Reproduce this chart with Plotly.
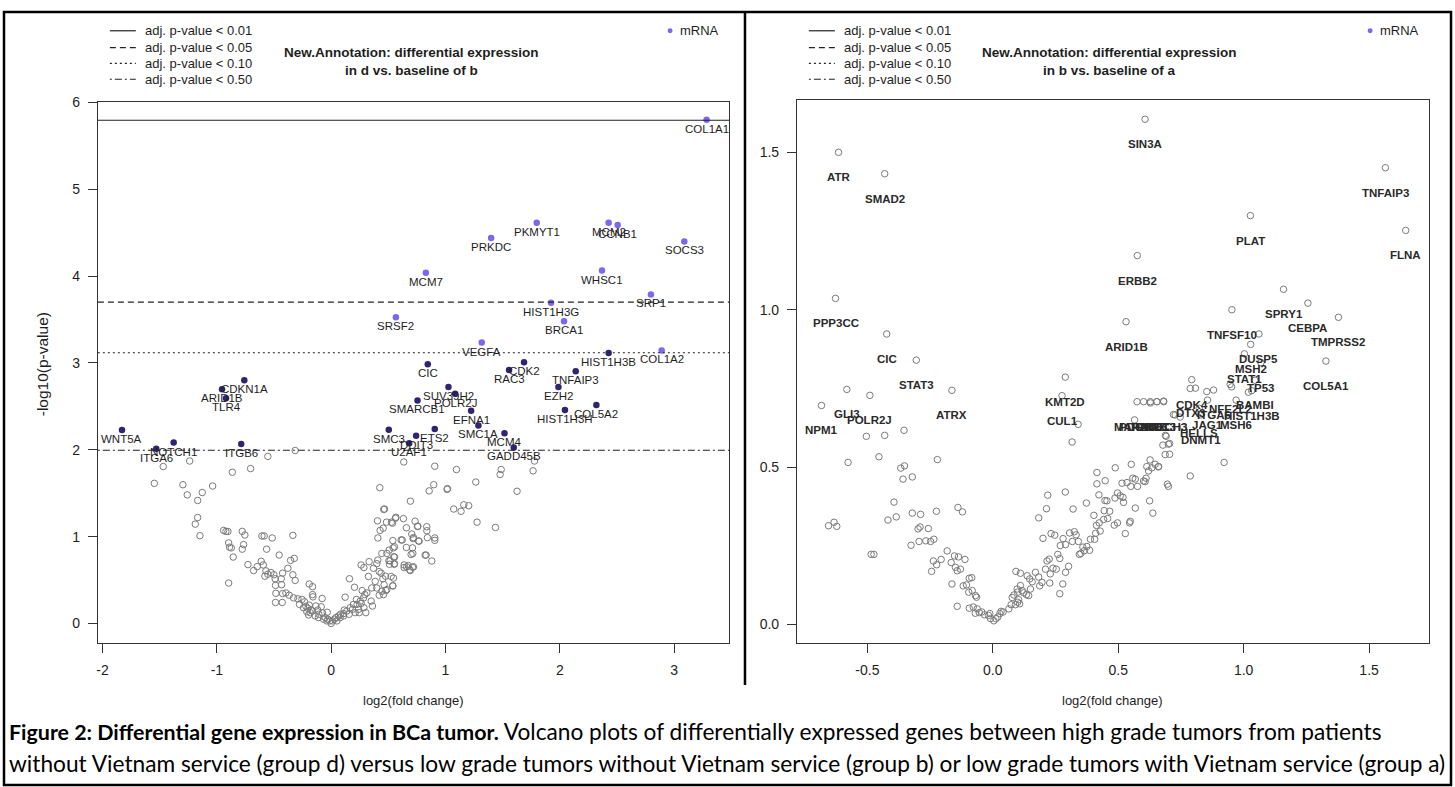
import plotly.graph_objects as go

W, H = 1455, 787

# ---------------- data: left panel (d vs b) ----------------
left_sig_genes = ["COL1A1", "PKMYT1", "PRKDC", "MCM2", "CCNB1", "SOCS3", "MCM7", "WHSC1", "SRP1",
                  "HIST1H3G", "SRSF2", "BRCA1", "VEGFA", "COL1A2", "HIST1H3B", "CIC", "CDK2", "RAC3",
                  "TNFAIP3", "SUV39H2", "POLR2J", "EZH2", "SMARCB1", "COL5A2", "HIST1H3H", "EFNA1",
                  "SMC1A", "SMC3", "ETS2", "MCM4", "DDIT3", "U2AF1", "GADD45B", "WNT5A", "CDKN1A",
                  "ARID1B", "TLR4", "NOTCH1", "ITGA6", "ITGB6"]
left_sig_x = [3.284, 1.798, 1.399, 2.427, 2.506, 3.089, 0.828, 2.369, 2.797,
              1.923, 0.566, 2.037, 1.317, 2.891, 2.427, 0.845, 1.687, 1.556,
              2.139, 1.026, 1.084, 1.988, 0.755, 2.32, 2.045, 1.224,
              1.288, 0.504, 0.906, 1.516, 0.743, 0.682, 1.597, -1.83, -0.760,
              -0.955, -0.920, -1.378, -1.530, -0.787]
left_sig_y = [5.80, 4.614, 4.44, 4.614, 4.59, 4.40, 4.04, 4.065, 3.79,
              3.693, 3.527, 3.48, 3.235, 3.144, 3.114, 2.985, 3.008, 2.92,
              2.906, 2.724, 2.645, 2.724, 2.568, 2.516, 2.459, 2.451,
              2.281, 2.232, 2.239, 2.19, 2.163, 2.076, 2.027, 2.227, 2.80,
              2.698, 2.595, 2.084, 2.011, 2.068]

left_gray_x = [-1.547, -1.469, -1.238, -1.297, -1.259, -1.168, -1.128, -1.037, -1.189, -1.168, -1.148,
               -0.865, -0.705, -0.554, -0.315, -0.941, -0.921, -0.903, -0.897, -0.889, -0.874, -0.857,
               -0.897, -0.778, -0.755, -0.766, -0.778, -0.728, -0.679, -0.647, -0.606, -0.586, -0.516,
               -0.565, -0.612, -0.594, -0.571, -0.580, -0.554, -0.527, -0.501, -0.455, -0.335, -0.323,
               -0.355, -0.379, -0.425, -0.490, -0.437, -0.487, -0.434, -0.484, -0.425, -0.487, -0.428,
               -0.396, -0.367, -0.335, -0.315, -0.329, -0.291, -0.256, -0.233, -0.277, -0.221, -0.192,
               -0.163, -0.163, -0.160, -0.192, -0.204, -0.175, -0.198, -0.163, -0.134, -0.117, -0.079,
               -0.087, -0.108, -0.076, -0.052, -0.035, -0.029, -0.012, 0.0, 0.012, 0.029, 0.041, 0.064,
               0.082, 0.108, 0.122, 0.114, 0.160, 0.204, 0.186, 0.157, 0.210, 0.221, 0.227, 0.239,
               0.245, 0.262, 0.286, 0.271, 0.294, 0.262, 0.286, 0.303, 0.326, 0.350, 0.361, 0.332,
               0.370, 0.399, 0.408, 0.420, 0.428, 0.408, 0.405, 0.425, 0.460, 0.455, 0.443, 0.484,
               0.536, 0.452, 0.463, 0.443, 0.487, 0.399, 0.420, 0.507, 0.516, 0.524, 0.539, 0.542,
               0.548, 0.551, 0.539, 0.562, 0.632, 0.658, 0.621, 0.658, 0.699, 0.711, 0.717, 0.693,
               0.734, 0.758, 0.769, 0.711, 0.688, 0.661, 0.638, 0.830, 0.836, 0.842, 0.880, 0.906,
               0.906, 0.857, 0.897, 0.906, 0.635, 1.014, 1.072, 1.136, 1.160, 1.203, 1.096, 1.265,
               1.276, 1.487, 1.478, 1.766, 1.778, 1.626, 1.017, 1.437, 0.466, 0.566, 0.528, 0.755,
               0.837, 0.705, 0.720, 0.764, 0.612, 0.554, 0.822, 0.714, 0.676, 0.720, 0.691, 0.638,
               0.487, 0.554, 0.505, 0.554, 0.510, 0.475, 0.545, 0.539, 0.478, 0.458,
               -0.242, -0.213, -0.184, -0.140, -0.111, -0.067, -0.038, 0.050, 0.079, 0.108, 0.137,
               0.166, 0.195, 0.254, 0.283, 0.312, 0.355, 0.385, 0.437]
left_gray_y = [1.614, 1.807, 1.871, 1.598, 1.481, 1.417, 1.508, 1.583, 1.144, 1.220, 1.011,
               1.742, 1.784, 1.924, 1.992, 1.072, 1.06, 1.06, 0.928, 0.879, 0.871, 0.765,
               0.466, 1.061, 1.019, 0.909, 0.856, 0.678, 0.610, 0.655, 1.008, 1.008, 0.985,
               0.856, 0.716, 0.674, 0.606, 0.545, 0.568, 0.587, 0.561, 0.788, 1.015, 0.750,
               0.727, 0.636, 0.580, 0.515, 0.515, 0.439, 0.447, 0.348, 0.345, 0.242, 0.242,
               0.352, 0.326, 0.561, 0.496, 0.295, 0.284, 0.277, 0.250, 0.220, 0.197, 0.455,
               0.424, 0.333, 0.307, 0.212, 0.174, 0.155, 0.098, 0.144, 0.201, 0.155, 0.288,
               0.193, 0.106, 0.121, 0.068, 0.129, 0.049, 0.030, 0.0, 0.030, 0.049, 0.068, 0.087,
               0.106, 0.114, 0.303, 0.155, 0.515, 0.417, 0.163, 0.106, 0.125, 0.277, 0.220, 0.163,
               0.125, 0.674, 0.644, 0.379, 0.333, 0.231, 0.182, 0.125, 0.542, 0.258, 0.201, 0.712,
               0.636, 0.689, 0.731, 0.598, 1.072, 0.985, 1.182, 1.564, 1.314, 1.098, 0.807, 1.167,
               1.155, 0.515, 0.447, 0.371, 0.390, 0.409, 0.326, 0.845, 0.723, 0.542, 0.955, 0.871,
               0.769, 0.682, 0.432, 1.212, 1.208, 1.102, 0.962, 0.875, 0.795, 0.871, 0.977, 1.409,
               1.178, 1.121, 0.947, 0.648, 0.617, 0.652, 0.674, 0.788, 1.114, 0.989, 0.720, 0.985,
               0.958, 1.527, 1.598, 1.811, 1.860, 1.545, 1.318, 1.292, 1.367, 1.356, 1.773, 1.629,
               1.167, 1.773, 1.716, 1.758, 1.871, 1.523, 1.553, 1.106, 1.318, 1.223, 1.167, 1.117,
               1.068, 1.030, 0.989, 0.951, 0.962, 0.883, 0.788, 0.807, 0.667, 0.652, 0.610, 0.644,
               0.807, 0.765, 0.723, 0.689, 0.682, 0.545, 0.523, 0.436, 0.379, 0.333,
               0.182, 0.136, 0.125, 0.087, 0.068, 0.049, 0.030, 0.030, 0.068, 0.087, 0.144,
               0.182, 0.220, 0.258, 0.295, 0.352, 0.409, 0.485, 0.580]

# adjusted p-value thresholds (-log10 p) for left panel
thr_labels = ["adj. p-value < 0.01", "adj. p-value < 0.05", "adj. p-value < 0.10", "adj. p-value < 0.50"]
left_thr_y = [5.795, 3.70, 3.118, 1.995]

# ---------------- data: right panel (b vs a) ----------------
right_lab_genes = ["SIN3A", "ATR", "SMAD2", "TNFAIP3", "PLAT", "FLNA", "ERBB2", "SPRY1", "PPP3CC",
                   "CEBPA", "TNFSF10", "TMPRSS2", "ARID1B", "CIC", "DUSP5", "MSH2", "STAT1", "STAT3",
                   "COL5A1", "TP53", "KMT2D", "CDK4", "BAMBI", "NFE2L2", "DTX3", "GLI3", "ATRX",
                   "ITGA6", "HIST1H3B", "POLR2J", "CUL1", "JAG1", "MSH6", "MAP2K1", "PDGFRB", "RAD51",
                   "ERCC3", "NOTCH3", "NPM1", "HELLS", "DNMT1"]
right_lab_x = [0.607, -0.615, -0.431, 1.565, 1.027, 1.646, 0.576, 1.159, -0.627,
               1.256, 0.953, 1.378, 0.531, -0.423, 1.061, 1.028, 1.003, -0.305,
               1.328, 1.069, 0.289, 0.793, 1.045, 0.946, 0.787, -0.582, -0.163,
               0.880, 1.032, -0.490, 0.276, 0.856, 0.970, 0.575, 0.601, 0.628,
               0.654, 0.681, -0.683, 0.823, 0.829]
right_lab_y = [1.605, 1.500, 1.432, 1.451, 1.299, 1.252, 1.172, 1.065, 1.036,
               1.021, 1.000, 0.976, 0.962, 0.923, 0.923, 0.890, 0.860, 0.840,
               0.837, 0.832, 0.786, 0.778, 0.776, 0.763, 0.750, 0.747, 0.744,
               0.745, 0.743, 0.728, 0.727, 0.713, 0.713, 0.708, 0.708, 0.708,
               0.708, 0.708, 0.696, 0.687, 0.666]

right_gray_x = [-0.655, -0.633, -0.622, -0.577, -0.504, -0.431, -0.354, -0.454, -0.485, -0.474, -0.394,
                -0.418, -0.385, -0.367, -0.352, -0.358, -0.321, -0.321, -0.288, -0.326, -0.298, -0.290,
                -0.257, -0.294, -0.267, -0.248, -0.235, -0.225, -0.221, -0.244, -0.237, -0.224, -0.206,
                -0.182, -0.166, -0.163, -0.153, -0.137, -0.149, -0.142, -0.129, -0.139, -0.121, -0.111,
                -0.142, -0.118, -0.105, -0.094, -0.084, -0.096, -0.082, -0.069, -0.065, -0.094, -0.078,
                -0.062, -0.070, -0.054, -0.044, -0.033, -0.017, -0.012, -0.009, 0.004, 0.012, 0.020,
                0.028, 0.033, 0.041, 0.064, 0.073, 0.077, 0.084, 0.090, 0.099, 0.103, 0.107, 0.099,
                0.117, 0.123, 0.134, 0.143, 0.150, 0.097, 0.110, 0.092, 0.110, 0.137, 0.147, 0.157,
                0.170, 0.183, 0.187, 0.196, 0.210, 0.216, 0.225, 0.229, 0.227, 0.240, 0.253, 0.267,
                0.259, 0.279, 0.290, 0.302, 0.267, 0.183, 0.214, 0.219, 0.200, 0.232, 0.247, 0.269,
                0.280, 0.290, 0.306, 0.317, 0.325, 0.332, 0.341, 0.345, 0.351, 0.365, 0.375, 0.386,
                0.359, 0.289, 0.320, 0.373, 0.389, 0.406, 0.413, 0.410, 0.424, 0.428, 0.403, 0.423,
                0.415, 0.415, 0.448, 0.447, 0.455, 0.444, 0.466, 0.442, 0.458, 0.484, 0.497, 0.487,
                0.497, 0.508, 0.521, 0.519, 0.528, 0.545, 0.548, 0.568, 0.488, 0.552, 0.515, 0.535,
                0.550, 0.558, 0.568, 0.577, 0.601, 0.607, 0.611, 0.625, 0.638, 0.627, 0.634, 0.647,
                0.621, 0.661, 0.696, 0.700, 0.787, 0.922, 0.687, 0.700, 0.678, 0.691, 0.316, 0.340,
                0.565, 0.628, 0.654, 0.681, 0.808, 0.853, 0.952, 1.019, 0.720, 0.747, 0.705, 0.705,
                0.727, 0.760, 0.688, 0.614, 0.660]
right_gray_y = [0.314, 0.325, 0.312, 0.515, 0.598, 0.601, 0.617, 0.533, 0.223, 0.223, 0.389,
                0.332, 0.342, 0.497, 0.504, 0.462, 0.469, 0.354, 0.350, 0.252, 0.304, 0.310,
                0.305, 0.264, 0.266, 0.264, 0.271, 0.360, 0.524, 0.169, 0.202, 0.190, 0.207,
                0.234, 0.197, 0.129, 0.218, 0.215, 0.182, 0.171, 0.176, 0.372, 0.358, 0.207,
                0.058, 0.123, 0.126, 0.147, 0.149, 0.103, 0.108, 0.092, 0.087, 0.052, 0.056,
                0.050, 0.036, 0.038, 0.040, 0.031, 0.029, 0.035, 0.019, 0.012, 0.019, 0.024,
                0.035, 0.042, 0.040, 0.050, 0.063, 0.086, 0.094, 0.063, 0.071, 0.079, 0.066, 0.103,
                0.108, 0.101, 0.095, 0.092, 0.113, 0.113, 0.124, 0.169, 0.163, 0.155, 0.145, 0.136,
                0.166, 0.151, 0.123, 0.134, 0.176, 0.202, 0.208, 0.161, 0.132, 0.179, 0.176, 0.210,
                0.223, 0.129, 0.166, 0.185, 0.098, 0.339, 0.368, 0.411, 0.274, 0.289, 0.284, 0.251,
                0.273, 0.254, 0.291, 0.264, 0.295, 0.285, 0.264, 0.223, 0.226, 0.235, 0.248, 0.236,
                0.246, 0.421, 0.367, 0.386, 0.271, 0.271, 0.315, 0.290, 0.323, 0.297, 0.347, 0.412,
                0.447, 0.483, 0.457, 0.394, 0.393, 0.362, 0.360, 0.334, 0.337, 0.316, 0.323, 0.402,
                0.418, 0.409, 0.388, 0.404, 0.289, 0.323, 0.328, 0.370, 0.498, 0.509, 0.449, 0.451,
                0.439, 0.465, 0.462, 0.439, 0.456, 0.454, 0.465, 0.393, 0.354, 0.523, 0.498, 0.509,
                0.488, 0.502, 0.446, 0.439, 0.472, 0.515, 0.540, 0.573, 0.570, 0.598, 0.580, 0.636,
                0.650, 0.704, 0.708, 0.710, 0.751, 0.740, 0.755, 0.738, 0.667, 0.659, 0.575, 0.541,
                0.666, 0.627, 0.601, 0.502, 0.501]

# tick labels (R style, ASCII hyphen minus)
left_xticks = [-2, -1, 0, 1, 2, 3]
left_xtext = ["-2", "-1", "0", "1", "2", "3"]
left_yticks = [0, 1, 2, 3, 4, 5, 6]
right_xticks = [-0.5, 0.0, 0.5, 1.0, 1.5]
right_xtext = ["-0.5", "0.0", "0.5", "1.0", "1.5"]
right_yticks = [0.0, 0.5, 1.0, 1.5]
right_ytext = ["0.0", "0.5", "1.0", "1.5"]

caption_bold = "Figure 2: Differential gene expression in BCa tumor."
caption_1 = " Volcano plots of differentially expressed genes between high grade tumors from patients"
caption_2 = ("without Vietnam service (group d) versus low grade tumors without Vietnam service (group b) "
             "or low grade tumors with Vietnam service (group a)")

# ---------------- styling ----------------
LIGHT = "#7b68ee"
DARK = "#2e2472"
GRAY = "#7a7a7a"
TXT = "#1e1e1e"
FONT = "Liberation Sans, Arial, sans-serif"


def px(x):
    return x / W


def py(y):
    return 1 - y / H


fig = go.Figure()

# left panel gray (non-significant) points
fig.add_trace(go.Scatter(x=left_gray_x, y=left_gray_y, mode="markers", xaxis="x", yaxis="y",
                         marker=dict(symbol="circle-open", size=6.5, color=GRAY, line=dict(width=1)),
                         hoverinfo="skip", showlegend=False))
# left panel significant points, coloured by threshold
sig_colors = [LIGHT if yv > left_thr_y[2] else DARK for yv in left_sig_y]
fig.add_trace(go.Scatter(x=left_sig_x, y=left_sig_y, mode="markers", xaxis="x", yaxis="y",
                         marker=dict(symbol="circle", size=6.5, color=sig_colors, line=dict(width=0)),
                         text=left_sig_genes, hoverinfo="text", showlegend=False))

# right panel points
fig.add_trace(go.Scatter(x=right_gray_x + right_lab_x, y=right_gray_y + right_lab_y, mode="markers",
                         xaxis="x2", yaxis="y2",
                         marker=dict(symbol="circle-open", size=6.5, color=GRAY, line=dict(width=1)),
                         hoverinfo="skip", showlegend=False))

annotations = []
for g, xv, yv in zip(left_sig_genes, left_sig_x, left_sig_y):
    annotations.append(dict(x=xv, y=yv, xref="x", yref="y", text=g, showarrow=False,
                            yshift=-9, font=dict(family=FONT, size=11.5, color=TXT)))
for g, xv, yv in zip(right_lab_genes, right_lab_x, right_lab_y):
    annotations.append(dict(x=xv, y=yv, xref="x2", yref="y2", text="<b>" + g + "</b>", showarrow=False,
                            yshift=-25, font=dict(family=FONT, size=11.5, color="#2a2a2a")))

shapes = []
dashes = ["solid", "6px,4px", "2px,3px", "2px,3px,7px,3px"]
for yv, d in zip(left_thr_y, dashes):
    shapes.append(dict(type="line", xref="x domain", yref="y", x0=0, x1=1, y0=yv, y1=yv,
                       line=dict(color="#222", width=1.2, dash=d)))

# legends (line samples + text) and titles for both panels
rows = [23, 40, 56, 72]
for lx, tcx, mx, sub in [(108, 410, 669, "in d vs. baseline of b"), (808, 1109, 1370, "in b vs. baseline of a")]:
    for r, d, lab in zip(rows, dashes, thr_labels):
        shapes.append(dict(type="line", xref="paper", yref="paper", x0=px(lx), x1=px(lx + 26),
                           y0=py(r), y1=py(r), line=dict(color="#222", width=1.2, dash=d)))
        annotations.append(dict(x=px(lx + 33), y=py(r), xref="paper", yref="paper", text=lab,
                                showarrow=False, xanchor="left", yanchor="middle",
                                font=dict(family=FONT, size=13, color=TXT)))
    annotations.append(dict(x=px(tcx), y=py(45), xref="paper", yref="paper",
                            text="<b>New.Annotation: differential expression</b>", showarrow=False,
                            xanchor="center", yanchor="middle", font=dict(family=FONT, size=13.5, color=TXT)))
    annotations.append(dict(x=px(tcx), y=py(63), xref="paper", yref="paper", text="<b>" + sub + "</b>",
                            showarrow=False, xanchor="center", yanchor="middle",
                            font=dict(family=FONT, size=13.5, color=TXT)))
    shapes.append(dict(type="circle", xref="paper", yref="paper", x0=px(mx - 2.5), x1=px(mx + 2.5),
                       y0=py(23 + 2.5), y1=py(23 - 2.5), fillcolor=LIGHT, line=dict(width=0)))
    annotations.append(dict(x=px(mx + 8), y=py(23), xref="paper", yref="paper", text="mRNA",
                            showarrow=False, xanchor="left", yanchor="middle",
                            font=dict(family=FONT, size=13, color=TXT)))

# axis titles
for cx in [412, 1112]:
    annotations.append(dict(x=px(cx), y=py(700), xref="paper", yref="paper", text="log2(fold change)",
                            showarrow=False, xanchor="center", yanchor="middle",
                            font=dict(family=FONT, size=13, color=TXT)))
annotations.append(dict(x=px(40), y=py(360), xref="paper", yref="paper", text="-log10(p-value)",
                        showarrow=False, textangle=-90, xanchor="center", yanchor="middle",
                        font=dict(family=FONT, size=15.5, color=TXT)))

# caption
annotations.append(dict(x=px(5), y=py(731), xref="paper", yref="paper",
                        text="<span style='font-size:21.4px'><b>" + caption_bold + "</b></span>" + caption_1,
                        showarrow=False, xanchor="left", yanchor="middle",
                        font=dict(family="Lato, sans-serif", size=22.7, color="#000")))
annotations.append(dict(x=px(5), y=py(763), xref="paper", yref="paper", text=caption_2, showarrow=False,
                        xanchor="left", yanchor="middle",
                        font=dict(family="Lato, sans-serif", size=22.7, color="#000")))

# frame: outer border and panel divider
shapes.append(dict(type="rect", xref="paper", yref="paper", x0=px(2), x1=px(1451), y0=py(785), y1=py(4),
                   line=dict(color="#000", width=2.5)))
shapes.append(dict(type="line", xref="paper", yref="paper", x0=px(744), x1=px(744), y0=py(684), y1=py(4),
                   line=dict(color="#000", width=2.5)))

axis_common = dict(showgrid=False, zeroline=False, showline=True, mirror=True, linecolor="#333",
                   linewidth=1, ticks="outside", ticklen=9, tickcolor="#333", tickwidth=1,
                   tickfont=dict(family=FONT, size=14, color=TXT), ticklabelstandoff=5)

fig.update_layout(
    width=W, height=H, margin=dict(l=0, r=0, t=0, b=0),
    paper_bgcolor="white", plot_bgcolor="white", showlegend=False,
    xaxis=dict(domain=[px(96), px(728)], range=[-2.041, 3.48], tickvals=left_xticks, ticktext=left_xtext,
               anchor="y", **axis_common),
    yaxis=dict(domain=[py(642), py(95)], range=[-0.23, 6.005], tickvals=left_yticks,
               anchor="x", **axis_common),
    xaxis2=dict(domain=[px(796), px(1429)], range=[-0.781, 1.739], tickvals=right_xticks,
                ticktext=right_xtext, anchor="y2", **axis_common),
    yaxis2=dict(domain=[py(642), py(93)], range=[-0.06, 1.666], tickvals=right_yticks,
                ticktext=right_ytext, anchor="x2", **axis_common),
    annotations=annotations, shapes=shapes,
)

fig.write_html("out.html", config={"displayModeBar": False},
               post_script="document.body.style.margin='0';document.body.style.overflow='hidden';")
